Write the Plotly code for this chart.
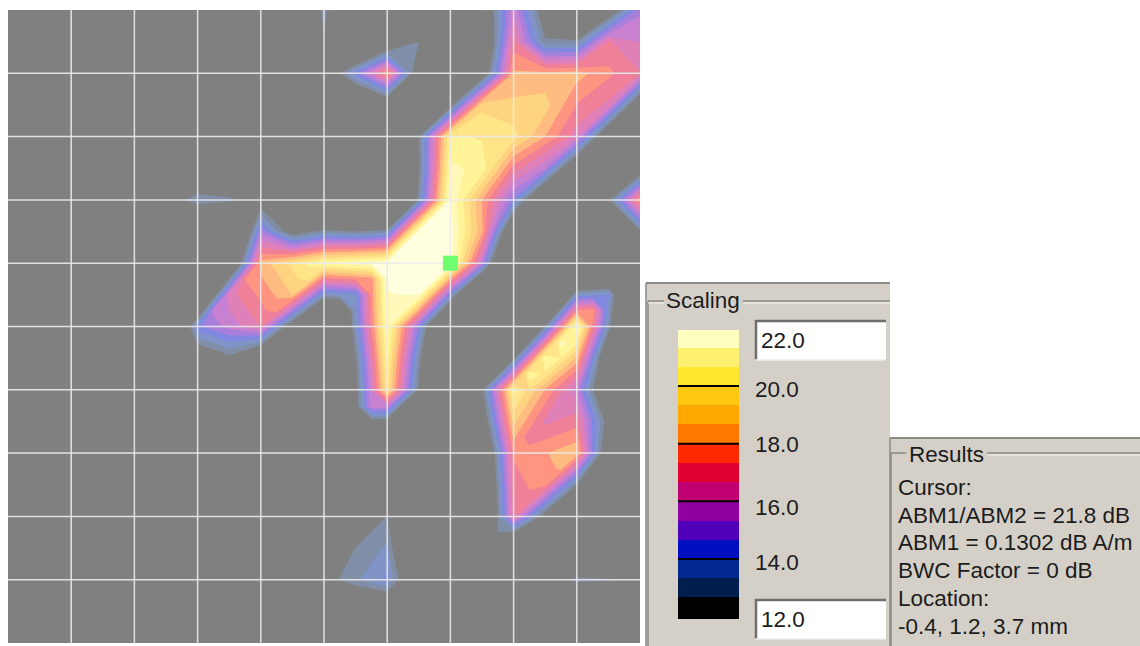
import plotly.graph_objects as go

W, H = 1140, 646

grid_x = [0, 2, 2.5, 3, 3.5, 4, 4.5, 5, 5.5, 6, 6.5, 7, 7.5, 8, 8.5, 9, 9.5, 10]
grid_y = [0, 0.5, 1, 1.5, 2, 2.5, 3, 3.5, 4, 4.5, 5, 5.5, 6, 6.5, 7, 7.5, 8, 8.5, 9, 9.5, 10]
field_rows = [
    [6, 6, 6, 6, 6, 6, 9.7, 13, 9.7, 4, 4.9, 5.8, 10.8, 15.8, 11.6, 7.5, 11.3, 15.2],
    [6, 6, 6, 6, 6, 6, 9.5, 12.5, 7.75, 10.5, 12.7, 4.9, 9.9, 16.95, 12.8, 12.9, 16.75, 15.95],
    [6, 6, 6, 6, 6, 6, 8.4, 10.8, 14.4, 18, 11.2, 4, 11.05, 18.1, 18.2, 18.3, 17.5, 16.7],
    [6, 6, 6, 7.5, 7.5, 6, 8.4, 8.4, 9.1, 10.8, 4.5, 12.1, 19.15, 18.85, 18.95, 17.3, 16.5, 10.6],
    [6, 6, 7.5, 9, 7.5, 6, 6, 6, 5.5, 5, 12.6, 20.2, 19.9, 19.6, 18, 16.3, 10.4, 4.5],
    [6, 6, 7.5, 10, 9.6, 8.9, 8.9, 5.6, 5.1, 4.8, 12.4, 20.8, 20.5, 17.05, 15.4, 10.15, 4.25, 11.25],
    [6, 6, 11.5, 13.3, 12.9, 11.8, 8.5, 5.3, 5, 4.6, 13, 21.4, 18, 14.5, 9.2, 4, 12.4, 18],
    [6, 6, 7, 9, 7, 15.05, 11.8, 13, 12.65, 13.1, 21.5, 21.6, 18.15, 9.75, 4.5, 5, 12, 12.5],
    [6, 6, 5.5, 3, 9.15, 18.3, 19.5, 20.7, 21.15, 21.6, 21.7, 21.8, 15.5, 5, 5.5, 6, 6.5, 7],
    [6, 6.5, 6, 7.25, 16.4, 17.5, 18.7, 13.35, 13.8, 21.3, 21.4, 14.15, 5.75, 4.65, 5.2, 13.65, 14.15, 6],
    [6, 7, 7, 14.5, 15.6, 16.7, 11.35, 6, 13.5, 21, 14.5, 6.5, 5.4, 4.3, 12.8, 21.3, 13.15, 5],
    [6, 6.5, 10.25, 11.25, 12.35, 9.85, 4.5, 5, 12.5, 20.35, 13.1, 5.5, 4.4, 12.3, 20.8, 18.45, 10.3, 6.25],
    [6, 6, 7, 8, 5.5, 3, 3.5, 4.4, 12.05, 19.7, 12.4, 4.5, 12.4, 20.3, 17.95, 15.6, 9.8, 7.5],
    [6, 6, 7, 7, 4.5, 4.5, 5, 4.4, 12.05, 12.05, 4.25, 3.75, 11.2, 18.85, 16.5, 17.05, 12, 5.25],
    [6, 6, 6, 6, 6, 6, 6, 4.4, 4.4, 4.4, 3.5, 1.6, 9.5, 17.4, 17.95, 18.5, 10.75, 3],
    [6, 6, 6, 6, 6, 6, 6, 7, 6, 8.35, 7.85, 1, 8.85, 17.1, 17.65, 12.65, 4.9, 4.5],
    [6, 6, 6, 6, 6, 6, 7, 8, 10.35, 12.7, 7.85, 0.3, 8.55, 16.8, 11.8, 6.8, 6.4, 6],
    [6, 6, 6, 6, 6, 6, 7, 10.1, 12.7, 13.45, 8.6, 0.3, 8.55, 8.55, 4.9, 9.85, 9.45, 9.3],
    [6, 6, 6, 6, 6, 6, 9, 12.2, 13.2, 14.2, 9.9, 5.6, 4.3, 3, 11.8, 12.9, 12.75, 12.6],
    [6, 6, 6, 6, 6, 6, 6, 9, 10.1, 10.1, 5.8, 5.8, 4.5, 4.5, 9.45, 9.45, 9.3, 9.3],
    [6, 6, 6, 6, 6, 6, 6, 6, 6, 6, 6, 6, 6, 6, 6, 6, 6, 6],
]

# Finer readings for the cells where a ridge runs along a cell diagonal
fine_steps = [0, 0.25, 0.5, 0.75, 1]
fine_col_3_row_4 = [
    [0, 4.58, 9.15, 13.73, 18.3],
    [3.63, 8.2, 12.78, 17.35, 17.9],
    [7.25, 11.83, 16.4, 16.95, 17.5],
    [10.88, 15.45, 16, 16.55, 17.1],
    [14.5, 15.05, 15.6, 16.15, 16.7],
]
fine_col_4_row_4 = [
    [18.3, 18.9, 19.5, 20.1, 20.7],
    [17.9, 18.5, 19.1, 19.7, 17.03],
    [17.5, 18.1, 18.7, 16.03, 13.35],
    [17.1, 17.7, 15.03, 12.35, 9.68],
    [16.7, 14.03, 11.35, 8.68, 6],
]
fine_col_5_row_4 = [
    [20.7, 20.93, 21.15, 21.38, 21.6],
    [17.03, 17.25, 17.48, 17.7, 21.45],
    [13.35, 13.58, 13.8, 17.55, 21.3],
    [9.68, 9.9, 13.65, 17.4, 21.15],
    [6, 9.75, 13.5, 17.25, 21],
]
fine_col_5_row_6 = [
    [4.4, 8.2, 12.05, 15.9, 19.7],
    [4.4, 8.2, 12.05, 15.9, 15.9],
    [4.4, 8.2, 12.05, 12.05, 12.05],
    [4.4, 8.2, 8.2, 8.2, 8.2],
    [4.4, 4.4, 4.4, 4.4, 4.4],
]
fine_col_7_row_8 = [
    [0.3, 4.43, 8.55, 12.68, 16.8],
    [0.3, 4.43, 8.55, 12.68, 12.68],
    [0.3, 4.43, 8.55, 8.55, 8.55],
    [0.3, 4.43, 4.43, 4.43, 4.43],
    [0.3, 0.3, 0.3, 0.3, 0.3],
]
fine_col_8_row_5 = [
    [4.3, 8.55, 12.8, 17.05, 21.3],
    [8.3, 12.55, 16.8, 21.05, 20.2],
    [12.3, 16.55, 20.8, 20, 18.45],
    [16.3, 20.55, 19.8, 18.2, 17],
    [20.3, 19.3, 17.95, 16.8, 15.6],
]
fine_col_8_row_6 = [
    [20.3, 19.13, 17.95, 16.78, 15.6],
    [19.58, 18.4, 17.23, 16.05, 16.33],
    [18.85, 17.68, 16.5, 16.78, 17.05],
    [18.13, 16.95, 17.23, 17.5, 17.78],
    [17.4, 17.68, 17.95, 18.23, 18.5],
]
fine_col_8_row_7 = [
    [17.4, 17.68, 17.95, 18.23, 18.5],
    [17.25, 17.53, 17.8, 18.08, 15.58],
    [17.1, 17.38, 17.65, 15.15, 12.65],
    [16.95, 17.23, 14.73, 12.23, 9.73],
    [16.8, 14.3, 11.8, 9.3, 6.8],
]
fine_col_9_row_4 = [
    [6, 6.25, 6.5, 6.75, 7],
    [9.83, 10.08, 10.33, 10.58, 6.5],
    [13.65, 13.9, 14.15, 10.08, 6],
    [17.48, 17.73, 13.65, 9.58, 5.5],
    [21.3, 17.23, 13.15, 9.08, 5],
]
fine_cells = [
    (3, 4, fine_col_3_row_4),
    (4, 4, fine_col_4_row_4),
    (5, 4, fine_col_5_row_4),
    (5, 6, fine_col_5_row_6),
    (7, 8, fine_col_7_row_8),
    (8, 5, fine_col_8_row_5),
    (8, 6, fine_col_8_row_6),
    (8, 7, fine_col_8_row_7),
    (9, 4, fine_col_9_row_4),
]

grid_ticks = [1, 2, 3, 4, 5, 6, 7, 8, 9]
cursor_x = [7]
cursor_y = [4]

scale_min = 12.0
scale_max = 22.0
band_edges = [11.92, 12.667, 13.333, 14, 14.667, 15.333, 16, 16.667, 17.333, 18,
              18.667, 19.333, 20, 20.667, 21.333, 21.94]
band_mids = [12.33, 13, 13.67, 14.33, 15, 15.67, 16.33, 17, 17.67, 18.33,
             19, 19.67, 20.33, 21, 21.67]
legend_colors = ["#000000", "#001f4f", "#00288f", "#0010c0", "#5000b8", "#9000a0",
                 "#c00070", "#e00030", "#ff2800", "#ff7800", "#ffa800", "#ffc810",
                 "#ffe830", "#fff070", "#ffffc0"]
field_colors = ["#808080", "#808fa7", "#8094c7", "#8088e0", "#a880dc", "#c880d0",
                "#e080b8", "#f08098", "#ff9480", "#ffbc80", "#ffd480", "#ffe488",
                "#fff498", "#fff8b8", "#ffffe0"]
legend_lines = [20, 18, 16, 14]

legend_label_text = ["20.0", "18.0", "16.0", "14.0"]
legend_label_y = [389, 444, 507, 562]
results_lines = ["Cursor:", "ABM1/ABM2 = 21.8 dB", "ABM1 = 0.1302 dB A/m",
                 "BWC Factor = 0 dB", "Location:", "-0.4, 1.2, 3.7 mm"]
results_y = [488, 515, 542, 570, 598, 626]


def px(x):
    return x / W


def py(y):
    return 1 - y / H


def steps(colors):
    n = len(colors)
    out = []
    for i, c in enumerate(colors):
        out += [[i / n, c], [(i + 1) / n, c]]
    return out


def field_trace(xs, ys, rows):
    return go.Contour(
        x=xs, y=ys, z=rows,
        zmin=scale_min, zmax=scale_max, zauto=False,
        autocontour=False,
        contours=dict(start=scale_min, end=scale_max, size=(scale_max - scale_min) / 15,
                      coloring="fill", showlines=False),
        line=dict(width=0, smoothing=0),
        colorscale=steps(field_colors),
        showscale=False, hoverinfo="skip",
        xaxis="x", yaxis="y",
    )


fig = go.Figure()
fig.add_trace(field_trace(grid_x, grid_y, field_rows))
for col, row, rows in fine_cells:
    fig.add_trace(field_trace([col + s for s in fine_steps], [row + s for s in fine_steps], rows))

gx, gy = [], []
for v in grid_ticks:
    gx += [v, v, None, 0, 10, None]
    gy += [0, 10, None, v, v, None]
fig.add_trace(go.Scatter(
    x=gx, y=gy, mode="lines", line=dict(color="rgba(235,235,235,0.9)", width=1.5),
    showlegend=False, hoverinfo="skip", xaxis="x", yaxis="y",
))

fig.add_trace(go.Scatter(
    x=cursor_x, y=cursor_y, mode="markers",
    marker=dict(symbol="square", size=15, color="#70ff70", line=dict(width=0)),
    showlegend=False, hoverinfo="skip", xaxis="x", yaxis="y",
))

fig.add_trace(go.Heatmap(
    x=[0, 1], y=band_edges, z=[[m] for m in band_mids],
    zmin=scale_min, zmax=scale_max,
    colorscale=steps(legend_colors), showscale=False, hoverinfo="skip",
    xaxis="x2", yaxis="y2",
))

line_x, line_y = [], []
for v in legend_lines:
    line_x += [0, 1, None]
    line_y += [v, v, None]
fig.add_trace(go.Scatter(
    x=line_x, y=line_y, mode="lines", line=dict(color="#000000", width=2),
    showlegend=False, hoverinfo="skip", xaxis="x2", yaxis="y2",
))

shapes = []


def rect(x0, y0, x1, y1, fill, line=None, lw=0, layer="below"):
    shapes.append(dict(type="rect", xref="paper", yref="paper", layer=layer,
                       x0=px(x0), x1=px(x1), y0=py(y1), y1=py(y0),
                       fillcolor=fill, line=dict(color=line or fill, width=lw)))


def hv(x0, y0, x1, y1, color, lw=1.5, layer="below"):
    shapes.append(dict(type="line", xref="paper", yref="paper", layer=layer,
                       x0=px(x0), x1=px(x1), y0=py(y0), y1=py(y1),
                       line=dict(color=color, width=lw)))


PANEL = "#d4d0c8"
rect(646, 282, 890, 646, PANEL)
rect(890, 437, 1140, 646, PANEL)
hv(646, 283, 890, 283, "#8c8a86", 2)
hv(890, 438, 1140, 438, "#8c8a86", 2)
hv(646, 283, 646, 646, "#8c8a86", 1.5)
hv(890, 438, 890, 646, "#8c8a86", 1.5)
hv(648, 301, 664, 301, "#8c8a86")
hv(743, 301, 890, 301, "#8c8a86")
hv(648, 301, 648, 646, "#8c8a86")
hv(648, 303, 664, 303, "#f4f2ee", 1)
hv(743, 303, 890, 303, "#f4f2ee", 1)
hv(891, 453, 906, 453, "#8c8a86")
hv(987, 453, 1140, 453, "#8c8a86")
hv(891, 453, 891, 646, "#8c8a86")
hv(987, 455, 1140, 455, "#f4f2ee", 1)
for (y0, y1) in [(320, 360), (599, 639)]:
    rect(755, y0, 886, y1, "#ffffff")
    hv(755, y0 + 1, 886, y0 + 1, "#6e6e6e", 2.5)
    hv(756, y0, 756, y1, "#6e6e6e", 2.5)
    hv(755, y1, 886, y1, "#eeeeee", 1.5)

annotations = []


def label(x, y, text):
    annotations.append(dict(xref="paper", yref="paper", x=px(x), y=py(y), text=text,
                            xanchor="left", yanchor="middle", showarrow=False,
                            font=dict(family="Liberation Sans", size=22.5, color="#1c1c1c")))


label(664, 300, "Scaling")
label(907, 454, "Results")
label(759, 340, "22.0")
label(759, 619, "12.0")
for t, y in zip(legend_label_text, legend_label_y):
    label(753, y, t)
for t, y in zip(results_lines, results_y):
    label(896, y, t)

fig.update_layout(
    width=W, height=H, autosize=False,
    margin=dict(l=0, r=0, t=0, b=0),
    paper_bgcolor="#ffffff", plot_bgcolor="#808080",
    showlegend=False,
    shapes=shapes, annotations=annotations,
    xaxis=dict(domain=[px(8), px(640)], range=[0, 10], showgrid=False, zeroline=False,
               showticklabels=False, ticks=""),
    yaxis=dict(domain=[py(643), py(10)], range=[10, 0], showgrid=False, zeroline=False,
               showticklabels=False, ticks=""),
    xaxis2=dict(domain=[px(678), px(739)], range=[0, 1], anchor="y2", showgrid=False,
                zeroline=False, showticklabels=False, ticks=""),
    yaxis2=dict(domain=[py(619), py(330)], range=[11.92, 21.94], anchor="x2", showgrid=False,
                zeroline=False, showticklabels=False, ticks=""),
)

fig.write_html("out.html", config=dict(displayModeBar=False),
               post_script="document.body.style.margin='0';document.body.style.overflow='hidden';")
